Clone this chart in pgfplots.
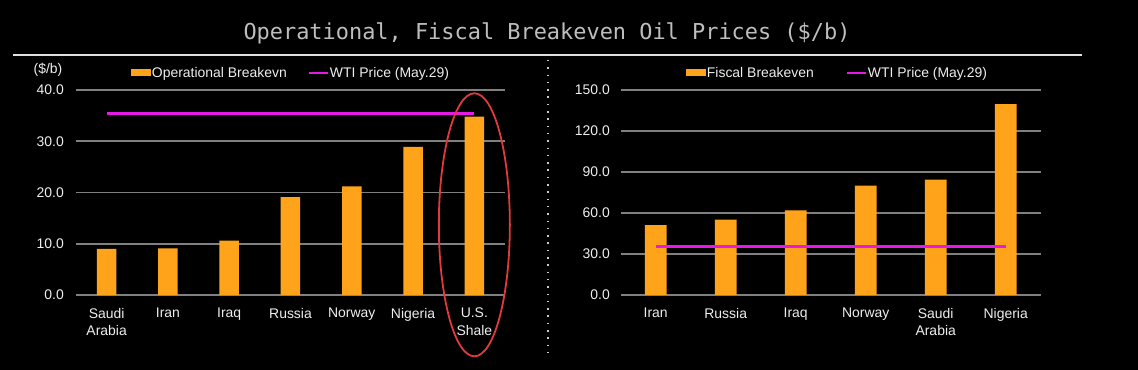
\documentclass[border=0pt]{standalone}
\usepackage{fontspec}
\setmainfont{Liberation Sans}
\newfontfamily\titlefont{DejaVu Sans Mono}
\usepackage{pgfplots}
\pgfplotsset{compat=1.18}
\definecolor{barorange}{HTML}{FFA31A}
\definecolor{wti}{HTML}{E619E6}
\definecolor{gridgray}{HTML}{808080}
\definecolor{txt}{HTML}{EEEEEE}
\definecolor{titlegray}{HTML}{BEBEBE}
\definecolor{ringred}{HTML}{E0393E}
\pgfplotsset{
  breakeven/.style={
    scale only axis, height=205bp,
    anchor=south west, clip=false,
    axis line style={draw=none}, major tick length=0pt,
    tick style={draw=none},
    ymajorgrids, grid style={gridgray, line width=1.6bp},
    xmin=-0.5, ymin=0, enlargelimits=false,
    tick label style={font=\fontsize{14}{17.5}\selectfont, text=txt},
    yticklabel style={anchor=east, inner sep=0pt},
    /pgf/number format/fixed, /pgf/number format/fixed zerofill,
    /pgf/number format/precision=1, /pgf/number format/assume math mode=true,
    xticklabel style={anchor=north, align=center, inner sep=0pt, yshift=-13bp},
    legend style={draw=none, fill=none, text=txt, font=\fontsize{14}{16}\selectfont,
      legend columns=2, inner sep=0pt, nodes={inner sep=1bp}, anchor=west},
  },
}
\begin{document}
\begin{tikzpicture}
\path[fill=black, use as bounding box] (0,0) rectangle (1138bp,370bp);
% title and frame
\node[font=\titlefont\fontsize{22}{24}\selectfont, text=titlegray, anchor=base] at (547bp,330bp) {Operational, Fiscal Breakeven Oil Prices (\$/b)};
\draw[white!88!black, line width=1.8bp] (13bp,315bp) -- (1082bp,315bp);
\draw[white!80!black, line width=2bp, dash pattern=on 1.5bp off 5.8bp] (548bp,310bp) -- (548bp,15bp);
\node[font=\fontsize{14}{16}\selectfont, text=txt] at (48bp,300bp) {(\$/b)};

% left: operational breakeven
\begin{axis}[breakeven, at={(76bp,75bp)}, width=429bp,
  xmax=6.5, ymax=40, ytick={0,10,...,40},
  xtick={0,...,6},
  xticklabels={{Saudi\\Arabia},Iran,Iraq,Russia,Norway,Nigeria,{U.S.\\Shale}},
  yticklabel style={xshift=-12bp},
  legend style={at={(0.1277,1.083)}, /tikz/every even column/.append style={column sep=20bp}},
]
\addplot[ybar, bar width=19.5bp, fill=barorange, draw=none,
  legend image code/.code={\fill[barorange] (0bp,-3.5bp) rectangle (20bp,3.5bp);}]
  coordinates {(0,9.0) (1,9.1) (2,10.6) (3,19.1) (4,21.2) (5,28.9) (6,34.8)};
\addlegendentry{Operational Breakevn}
\addplot[wti, line width=3bp, mark=none,
  legend image code/.code={\draw[wti, line width=2bp] (0bp,0bp) -- (19bp,0bp);}]
  coordinates {(0,35.4) (6,35.4)};
\addlegendentry{WTI Price (May.29)}
\draw[ringred, line width=1.8bp] (axis cs:6,13.7) ellipse [x radius=35.5bp, y radius=131.5bp];
\end{axis}

% right: fiscal breakeven
\begin{axis}[breakeven, at={(620.7bp,75bp)}, width=420bp,
  xmax=5.5, ymax=150, ytick={0,30,...,150},
  xtick={0,...,5},
  xticklabels={Iran,Russia,Iraq,Norway,{Saudi\\Arabia},Nigeria},
  yticklabel style={xshift=-10.7bp},
  legend style={at={(0.1548,1.083)}, /tikz/every even column/.append style={column sep=31bp}},
]
\addplot[ybar, bar width=21.7bp, fill=barorange, draw=none,
  legend image code/.code={\fill[barorange] (0bp,-3.5bp) rectangle (20bp,3.5bp);}]
  coordinates {(0,51.2) (1,55.1) (2,62.0) (3,80.1) (4,84.5) (5,139.7)};
\addlegendentry{Fiscal Breakeven}
\addplot[wti, line width=3bp, mark=none,
  legend image code/.code={\draw[wti, line width=2bp] (0bp,0bp) -- (19bp,0bp);}]
  coordinates {(0,35.4) (5,35.4)};
\addlegendentry{WTI Price (May.29)}
\end{axis}
\end{tikzpicture}
\end{document}
